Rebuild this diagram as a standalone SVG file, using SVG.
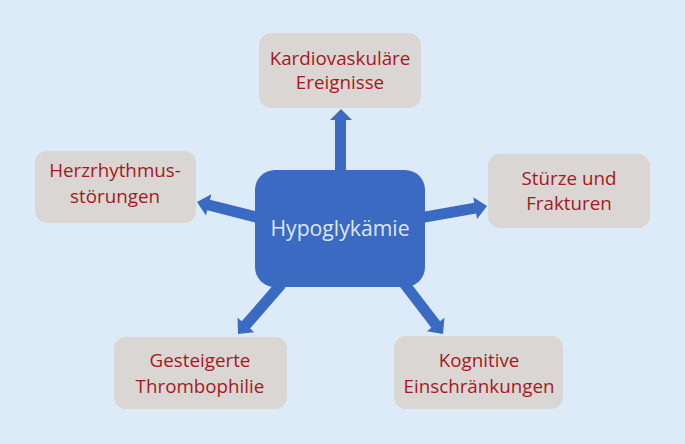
<svg xmlns="http://www.w3.org/2000/svg" width="685" height="444" viewBox="0 0 685 444">
<defs>
<style>
.box{fill:#d9d6d3;}
.lbl{font-family:"Open Sans","Liberation Sans",sans-serif;font-size:18.8px;fill:#a9161c;text-anchor:middle;}
.arr{fill:#3b6ac2;}
.ctr{fill:#3b6ac2;}
.ctxt{font-family:"Open Sans","Liberation Sans",sans-serif;font-size:21.2px;fill:#dde7f5;text-anchor:middle;}
</style>
</defs>
<rect width="685" height="444" fill="#ddeaf7"/>
<g id="connectors">
<polygon class="arr" points="335,175 335,120 330,120 341,109 352,120 346,120 346,175"/>
<g transform="translate(197,202) rotate(-165.7)"><polygon class="arr" points="0,0 -12,-11 -12,-5.5 -66,-5.5 -66,5.5 -12,5.5 -12,11"/></g>
<g transform="translate(487,206) rotate(-10)"><polygon class="arr" points="0,0 -12,-11 -12,-5.5 -68,-5.5 -68,5.5 -12,5.5 -12,11"/></g>
<g transform="translate(238,334) rotate(131)"><polygon class="arr" points="0,0 -12,-11 -12,-5.5 -66,-5.5 -66,5.5 -12,5.5 -12,11"/></g>
<g transform="translate(443,334) rotate(52.5)"><polygon class="arr" points="0,0 -12,-11 -12,-5.5 -64,-5.5 -64,5.5 -12,5.5 -12,11"/></g>
</g>
<g id="hypoglykaemie">
<rect class="ctr" x="255" y="170" width="170" height="117" rx="20"/>
<text class="ctxt" x="340" y="236">Hypoglykämie</text>
</g>
<g id="kardiovaskulaere">
<rect class="box" x="259" y="33" width="162" height="75" rx="12"/>
<text class="lbl" x="340" y="65">Kardiovaskuläre</text>
<text class="lbl" x="340" y="89">Ereignisse</text>
</g>
<g id="herzrhythmus">
<rect class="box" x="35" y="151" width="161" height="72" rx="12"/>
<text class="lbl" x="115" y="177">Herzrhythmus-</text>
<text class="lbl" x="115" y="203">störungen</text>
</g>
<g id="stuerze">
<rect class="box" x="488" y="154" width="162" height="74" rx="12"/>
<text class="lbl" x="569" y="185">Stürze und</text>
<text class="lbl" x="569" y="210">Frakturen</text>
</g>
<g id="thrombophilie">
<rect class="box" x="114" y="337" width="173" height="72" rx="12"/>
<text class="lbl" x="200" y="367">Gesteigerte</text>
<text class="lbl" x="200" y="393">Thrombophilie</text>
</g>
<g id="kognitive">
<rect class="box" x="394" y="336" width="169" height="73" rx="12"/>
<text class="lbl" x="479" y="367">Kognitive</text>
<text class="lbl" x="479" y="393">Einschränkungen</text>
</g>
</svg>
